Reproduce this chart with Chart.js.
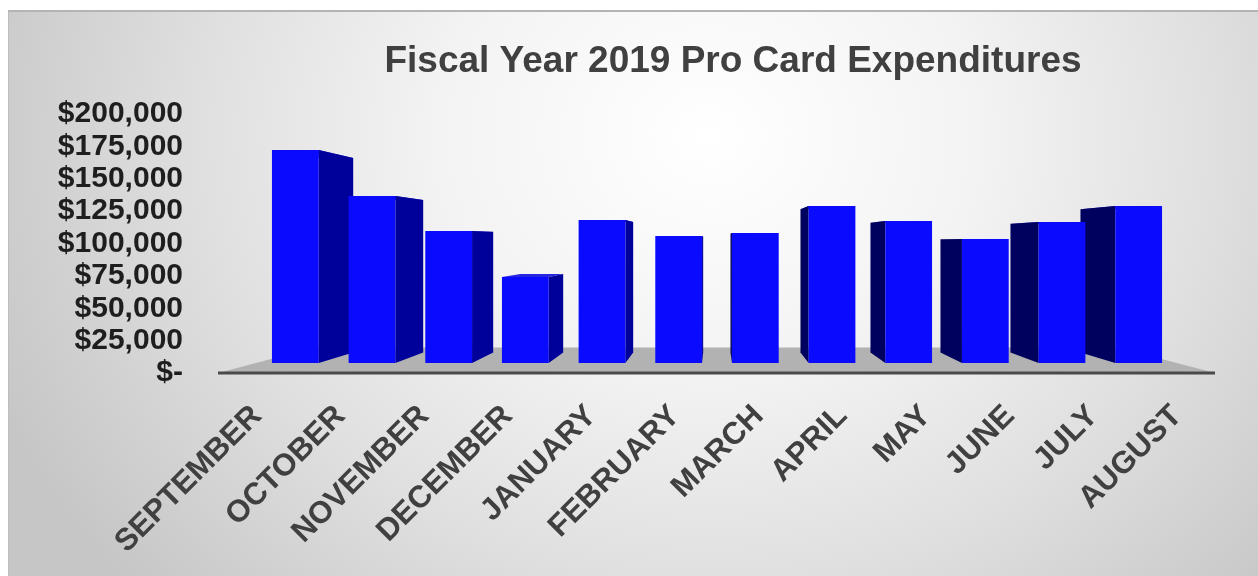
<!DOCTYPE html>
<html><head><meta charset="utf-8">
<script src="https://cdn.jsdelivr.net/npm/chart.js@4.4.1/dist/chart.umd.min.js"></script>
<style>
html,body{margin:0;padding:0;background:#fff;}
#wrap{position:relative;width:1258px;height:576px;overflow:hidden;}
#frame{position:absolute;left:8px;top:10px;width:1250px;height:566px;box-sizing:border-box;
  border-top:2px solid #b4b4b4;border-left:1px solid #bdbdbd;
  background:radial-gradient(ellipse 62% 120% at 56% 22%, #ffffff 0%, #f3f3f3 35%, #e0e0e0 65%, #c6c6c6 100%);}
canvas{position:absolute;left:0;top:0;}
</style></head>
<body><div id="wrap"><div id="frame"></div><canvas id="c" width="1258" height="576"></canvas></div>
<script>
const chartTitle = 'Fiscal Year 2019 Pro Card Expenditures';
const months = ['SEPTEMBER','OCTOBER','NOVEMBER','DECEMBER','JANUARY','FEBRUARY','MARCH','APRIL','MAY','JUNE','JULY','AUGUST'];
const expenditures = [164500, 129000, 102000, 66400, 110400, 98000, 100400, 121200, 109700, 95800, 108900, 121200];
const yTickValues = [0, 25000, 50000, 75000, 100000, 125000, 150000, 175000, 200000];

function fmtMoney(v){ return v === 0 ? '$-' : '$' + Number(v).toLocaleString('en-US'); }

const pseudo3d = {
  id: 'pseudo3d',
  afterLayout(chart){
    const tb = chart.titleBlock;
    if (tb) { tb.left = 2*733 - tb.right; }
  },
  beforeDatasetsDraw(chart){
    const ctx = chart.ctx, area = chart.chartArea;
    const y0 = chart.scales.y.getPixelForValue(0);
    const vx = area.left + 458, vy = area.top + 138;
    // floor
    const fy = y0 + 10, fl = area.left - 39, fr = area.right + 38;
    const k2 = 0.195;
    const bl = fl + k2*(vx-fl), br = fr + k2*(vx-fr), by = fy + k2*(vy-fy);
    ctx.save();
    ctx.fillStyle = '#b2b2b2';
    ctx.beginPath(); ctx.moveTo(fl,fy); ctx.lineTo(bl,by); ctx.lineTo(br,by); ctx.lineTo(fr,fy); ctx.closePath(); ctx.fill();
    ctx.strokeStyle = '#4a4a4a'; ctx.lineWidth = 3;
    ctx.beginPath(); ctx.moveTo(fl,fy); ctx.lineTo(fr,fy); ctx.stroke();
    // bar sides
    const k = 0.087;
    const proj = (px,py) => [px + k*(vx-px), py + k*(vy-py)];
    const meta = chart.getDatasetMeta(0);
    meta.data.forEach(el => {
      const p = el.getProps(['x','y','base','width'], true);
      const l = p.x - p.width/2, r = p.x + p.width/2, t = p.y, b = p.base;
      const poly = (pts, col) => { ctx.fillStyle = col; ctx.beginPath(); ctx.moveTo(pts[0][0],pts[0][1]); for (let i=1;i<pts.length;i++) ctx.lineTo(pts[i][0],pts[i][1]); ctx.closePath(); ctx.fill(); };
      poly([[l,t],[r,t],proj(r,t),proj(l,t)], '#2626e0');
      if (r < vx) poly([[r,t],proj(r,t),proj(r,b),[r,b]], '#00009a');
      if (l > vx) poly([[l,t],proj(l,t),proj(l,b),[l,b]], '#00005e');
    });
    ctx.restore();
  }
};

new Chart(document.getElementById('c'), {
  type: 'bar',
  data: {
    labels: months,
    datasets: [{
      data: expenditures,
      backgroundColor: '#0a0aff',
      borderWidth: 0,
      barPercentage: 0.61,
      categoryPercentage: 1,
      xAxisID: 'x', yAxisID: 'y'
    }]
  },
  options: {
    responsive: false,
    animation: false,
    layout: { padding: { left: 0, right: 81, top: 0, bottom: 0 } },
    plugins: {
      legend: { display: false },
      tooltip: { enabled: false },
      title: {
        display: true, text: chartTitle, color: '#404040',
        font: { family: 'Liberation Sans, Arial, sans-serif', size: 37, weight: 'bold' },
        padding: { top: 40, bottom: 19.6 }
      }
    },
    scales: {
      x: { type: 'category', offset: true, display: false, grid: { display: false } },
      xl: {
        type: 'category', labels: months, position: 'bottom', offset: false,
        grid: { display: false }, border: { display: false },
        ticks: { autoSkip: false, minRotation: 45, maxRotation: 45, padding: 27, color: '#404040',
          font: { family: 'Liberation Sans, Arial, sans-serif', size: 31, weight: 'bold' } },
        afterFit: s => { s.height = 213; }
      },
      y: {
        min: 0, max: 200000,
        grid: { display: false }, border: { display: false },
        afterBuildTicks: s => { s.ticks = yTickValues.map(v => ({ value: v })); },
        ticks: { autoSkip: false, padding: 66, labelOffset: 10, color: '#1e1e1e', callback: v => fmtMoney(v),
          font: { family: 'Liberation Sans, Arial, sans-serif', size: 30, weight: 'bold' } },
        afterFit: s => { s.width = 257; }
      }
    }
  },
  plugins: [pseudo3d]
});
</script>
</body></html>
